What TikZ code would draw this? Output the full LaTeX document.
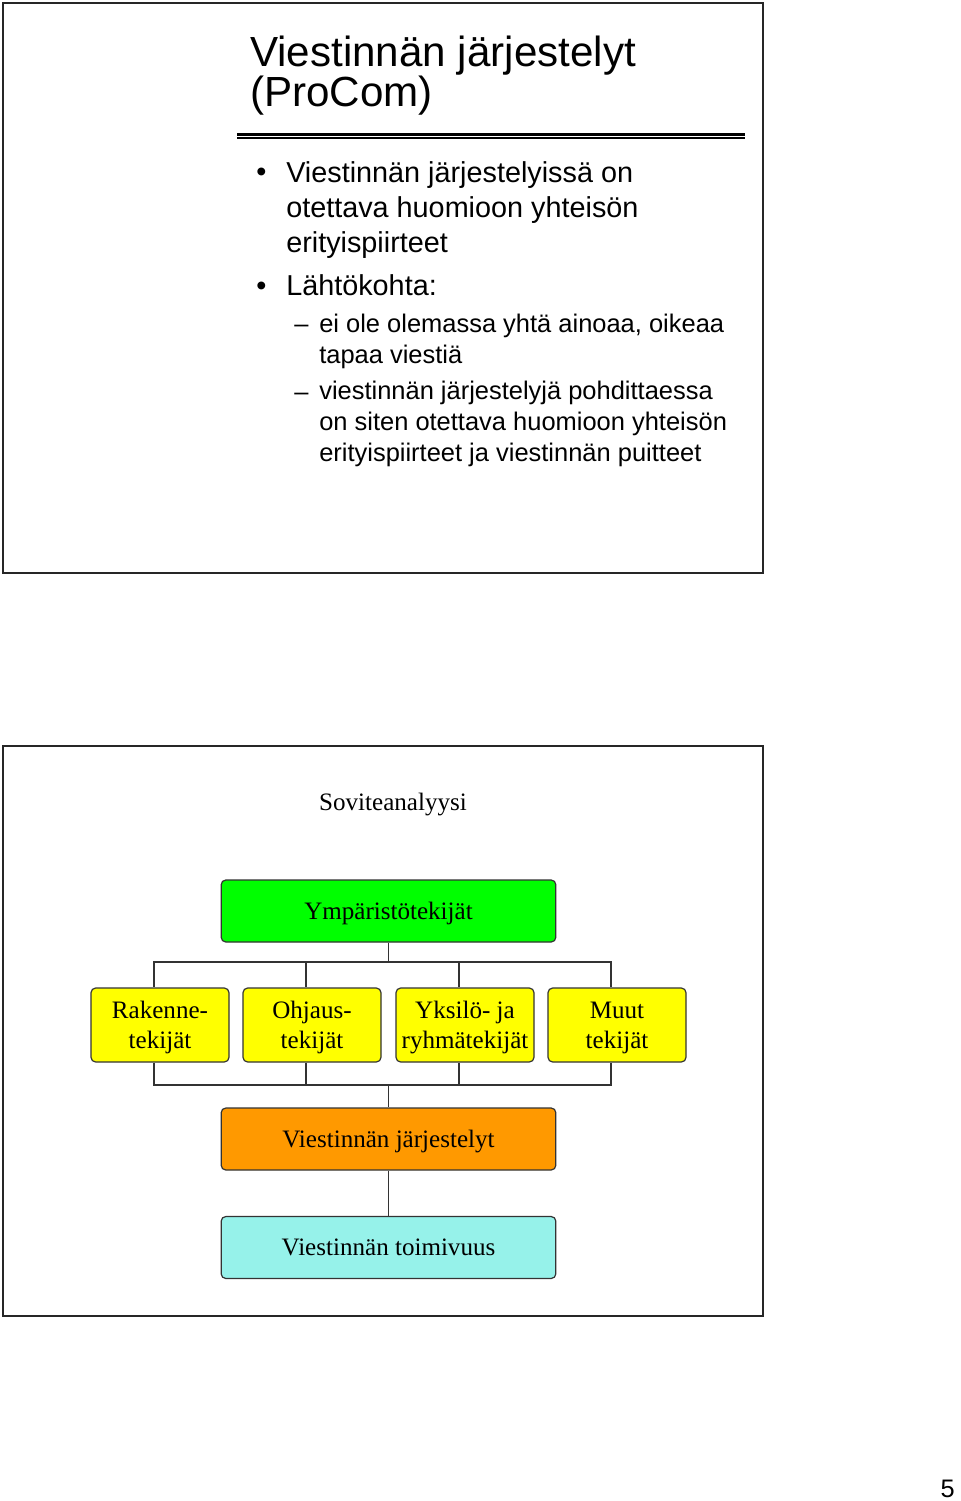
\documentclass[tikz,border=0pt]{standalone}
\usepackage{fontspec}
\setmainfont{Liberation Serif}
\newfontfamily\slidefont{Liberation Sans}
\usetikzlibrary{positioning}
\definecolor{envgreen}{RGB}{0,255,0}
\definecolor{factyellow}{RGB}{255,255,0}
\definecolor{orgorange}{RGB}{255,153,0}
\definecolor{resultcyan}{RGB}{150,242,234}
\tikzset{
    slide/.style={draw=black!85, line width=1.5pt},
    factor/.style={draw=black!80, rounded corners=3.5pt, line width=0.9pt, align=center, inner sep=0pt, text depth=0pt, font=\fontsize{18.8}{22.8}\selectfont},
    wide/.style={factor, minimum width=251pt, minimum height=46.5pt},
    narrow/.style={factor, minimum width=103.5pt, minimum height=55.5pt},
    link/.style={draw=black!80, line width=0.9pt},
    point/.style={anchor=base west, inner sep=0pt, align=left, font=\slidefont\fontsize{21.6}{26.6}\selectfont},
    subpoint/.style={anchor=base west, inner sep=0pt, align=left, font=\slidefont\fontsize{19.1}{23}\selectfont}
}
\begin{document}
\begin{tikzpicture}[x=0.75pt, y=-0.75pt]
        \useasboundingbox (0,0) rectangle (960,1501);
        % upper slide (multi-line nodes sit on their last baseline)
        \draw[slide] (3,3) rectangle (763,573);
        \node (title) [anchor=base west, inner sep=0pt, align=left, font=\slidefont\fontsize{31.6}{29.3}\selectfont] at (250,107) {Viestinnän järjestelyt\\(ProCom)};
        \draw[line width=1.6pt] (237,134.5) -- (745,134.5);
        \draw[line width=0.8pt] (237,138) -- (745,138);
        \node (d1) [point] at (256,182) {•};
        \node (p1) [point] at (286,253) {Viestinnän järjestelyissä on\\otettava huomioon yhteisön\\erityispiirteet};
        \node (d2) [point] at (256,296) {•};
        \node (p2) [point] at (286,296) {Lähtökohta:};
        \node (d3) [subpoint] at (294,333) {–};
        \node (s1) [subpoint] at (319,363) {ei ole olemassa yhtä ainoaa, oikeaa\\tapaa viestiä};
        \node (d4) [subpoint] at (294,400) {–};
        \node (s2) [subpoint] at (319,461) {viestinnän järjestelyjä pohdittaessa\\on siten otettava huomioon yhteisön\\erityispiirteet ja viestinnän puitteet};
        % lower slide
        \draw[slide] (3,746) rectangle (763,1316);
        \node (head) [anchor=base, inner sep=0pt, font=\fontsize{18.8}{22.8}\selectfont] at (393,810) {Soviteanalyysi};
        \node (ymp) [wide, fill=envgreen] at (388.5,911) {Ympäristötekijät};
        \node (rak) [narrow, fill=factyellow] at (160,1025) {Rakenne-\\tekijät};
        \node (ohj) [narrow, fill=factyellow] at (312,1025) {Ohjaus-\\tekijät};
        \node (yks) [narrow, fill=factyellow] at (465,1025) {Yksilö- ja\\ryhmätekijät};
        \node (muu) [narrow, fill=factyellow] at (617,1025) {Muut\\tekijät};
        \node (jar) [wide, fill=orgorange] at (388.5,1139) {Viestinnän järjestelyt};
        \node (toi) [wide, fill=resultcyan] at (388.5,1247.5) {Viestinnän toimivuus};
        \coordinate (busT) at (388.5,962);
        \coordinate (busB) at (388.5,1085);
        \foreach \b in {rak,ohj,yks,muu} {
                \draw[link] (ymp.south) |- ([xshift=-4.5pt]\b.north |- busT) -- ([xshift=-4.5pt]\b.north);
                \draw[link] ([xshift=-4.5pt]\b.south) |- (busB) -- (jar.north);
        }
        \draw[link] (jar) -- (toi);
        \node (page) [anchor=base east, inner sep=0pt, font=\slidefont\fontsize{19}{19}\selectfont] at (955,1497) {5};
\end{tikzpicture}
\end{document}
